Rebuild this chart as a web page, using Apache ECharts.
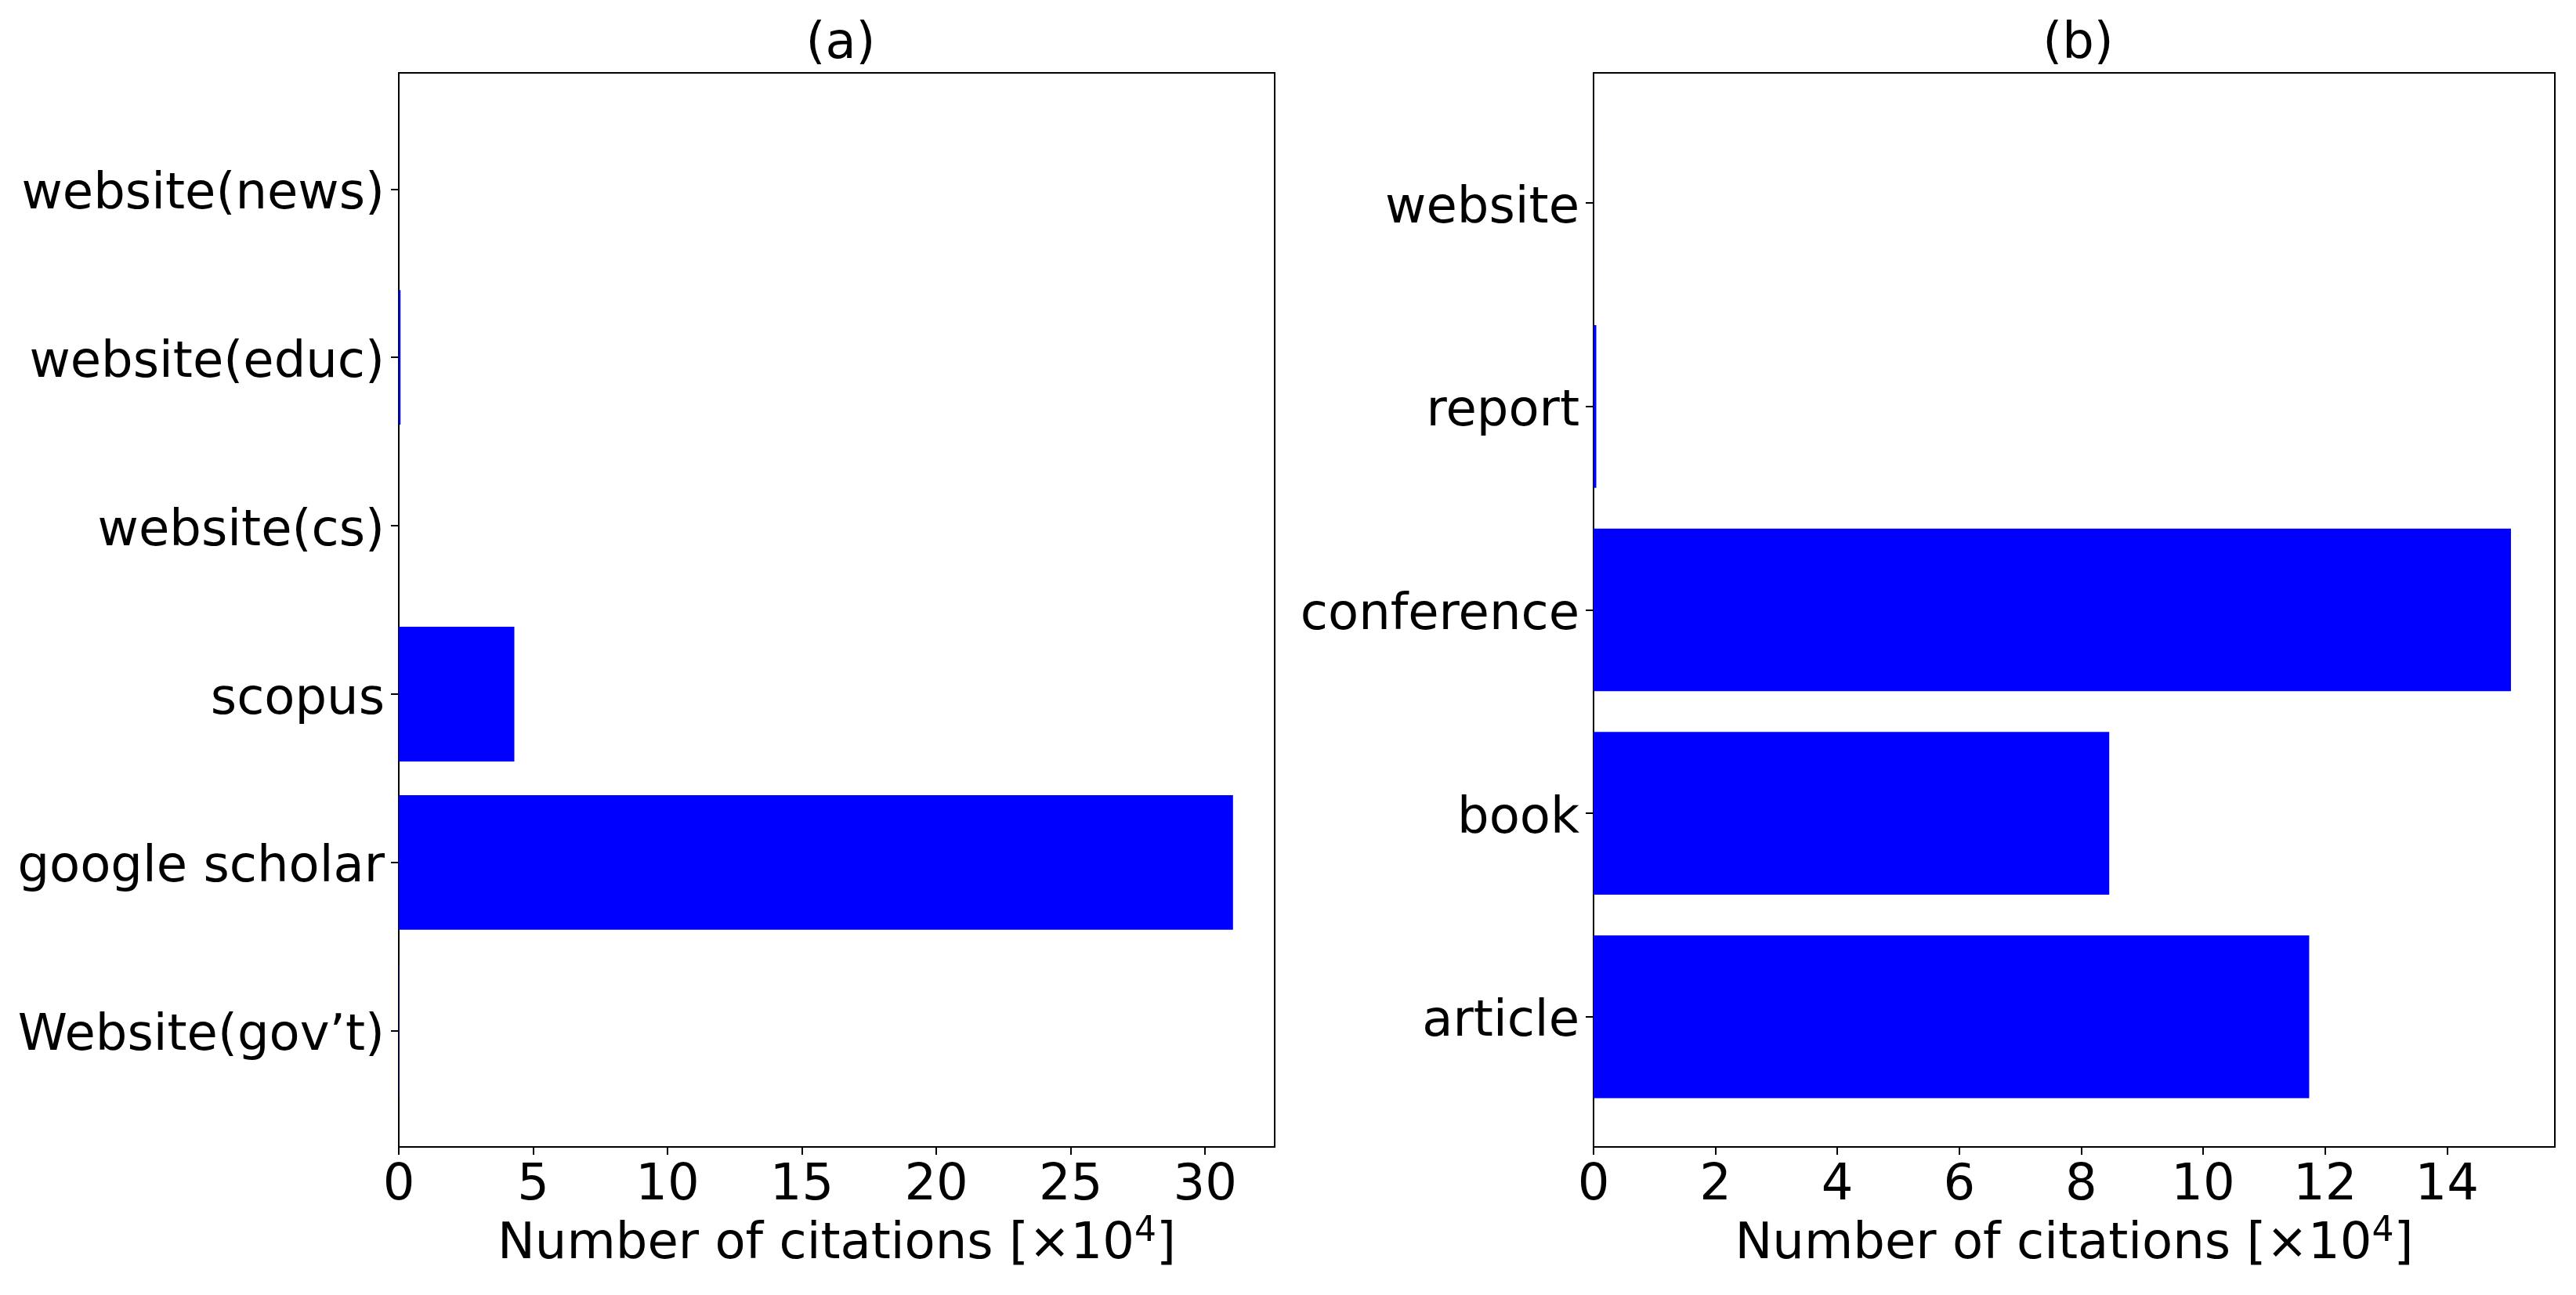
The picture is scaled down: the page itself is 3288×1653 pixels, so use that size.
<!DOCTYPE html>
<html>
<head>
<meta charset="utf-8">
<script src="https://cdn.jsdelivr.net/npm/echarts@6/dist/echarts.min.js"></script>
<style>html,body{margin:0;padding:0;background:#fff;}#c{width:3288px;height:1653px;}</style>
</head>
<body>
<div id="c"></div>
<script>
// Panel (a): categories listed bottom-to-top
const catsA = ["Website(gov\u2019t)", "google scholar", "scopus", "website(cs)", "website(educ)", "website(news)"];
const valsA = [0.01, 31.04, 4.30, 0.002, 0.065, 0.002];
const ticksA = [0, 5, 10, 15, 20, 25, 30];
const xmaxA = 32.59;

// Panel (b): categories listed bottom-to-top
const catsB = ["article", "book", "conference", "report", "website"];
const valsB = [11.74, 8.46, 15.05, 0.045, 0.002];
const ticksB = [0, 2, 4, 6, 8, 10, 12, 14];
const xmaxB = 15.77;

const titles = ["(a)", "(b)"];
const FONT = "DejaVu Sans";
const FS = 64;

const chart = echarts.init(document.getElementById('c'), null, {renderer: 'canvas'});

function panel(left, width, cats, nCatSpan) {
  const top = 93, height = 1371;
  const band = height / nCatSpan;
  const gap = (nCatSpan - cats.length) / 2 * band;
  return {
    frameGrid: {left: left, top: top, width: width, height: height, show: true,
      borderColor: '#000', borderWidth: 2, backgroundColor: '#fff', containLabel: false},
    dataGrid: {left: left, top: top + gap, width: width, height: band * cats.length, containLabel: false}
  };
}

const pA = panel(509, 1118, catsA, 6.38);
const pB = panel(2034, 1227, catsB, 5.28);

const nameRich = {
  n: {fontSize: FS, fontFamily: FONT, color: '#000', verticalAlign: 'bottom'},
  s: {fontSize: 44, fontFamily: FONT, color: '#000', verticalAlign: 'bottom', padding: [0, 0, 26, 0]}
};

function frameX(gridIndex, xmax, ticks) {
  return {
    type: 'value', gridIndex: gridIndex, min: 0, max: xmax,
    splitLine: {show: false},
    axisLine: {show: true, onZero: false, lineStyle: {color: '#000', width: 2}},
    axisTick: {show: true, length: 10, lineStyle: {color: '#000', width: 2}, customValues: ticks},
    axisLabel: {show: true, fontSize: FS, fontFamily: FONT, color: '#000', margin: 18, customValues: ticks},
    name: '{n|Number of citations [\u00d710}{s|4}{n|]}',
    nameLocation: 'middle', nameGap: 86,
    nameTextStyle: {rich: nameRich}
  };
}
function dataX(gridIndex, xmax) {
  return {type: 'value', gridIndex: gridIndex, min: 0, max: xmax, show: false};
}
function frameY(gridIndex) {
  return {type: 'value', gridIndex: gridIndex, min: 0, max: 1, show: false};
}
function dataY(gridIndex, cats) {
  return {
    type: 'category', gridIndex: gridIndex, data: cats,
    axisLine: {show: false},
    axisTick: {show: true, alignWithLabel: true, length: 10, lineStyle: {color: '#000', width: 2}},
    axisLabel: {
      margin: 18,
      formatter: function (v) { return '{c|' + v + '}'; },
      rich: {c: {fontSize: FS, fontFamily: FONT, color: '#000', padding: [16, 0, 0, 0]}}
    },
    splitLine: {show: false}
  };
}

const option = {
  backgroundColor: '#fff',
  animation: false,
  title: [
    {text: titles[0], left: 509 + 1118 / 2, top: 20, textAlign: 'center',
      textStyle: {fontSize: FS, fontFamily: FONT, color: '#000', fontWeight: 'normal'}},
    {text: titles[1], left: 2034 + 1227 / 2, top: 20, textAlign: 'center',
      textStyle: {fontSize: FS, fontFamily: FONT, color: '#000', fontWeight: 'normal'}}
  ],
  grid: [pA.frameGrid, pA.dataGrid, pB.frameGrid, pB.dataGrid],
  xAxis: [frameX(0, xmaxA, ticksA), dataX(1, xmaxA), frameX(2, xmaxB, ticksB), dataX(3, xmaxB)],
  yAxis: [frameY(0), dataY(1, catsA), frameY(2), dataY(3, catsB)],
  series: [
    {type: 'bar', xAxisIndex: 1, yAxisIndex: 1, data: valsA, barWidth: '80%',
      itemStyle: {color: '#0000ff'}, silent: true},
    {type: 'bar', xAxisIndex: 3, yAxisIndex: 3, data: valsB, barWidth: '80%',
      itemStyle: {color: '#0000ff'}, silent: true}
  ]
};
chart.setOption(option);
</script>
</body>
</html>
